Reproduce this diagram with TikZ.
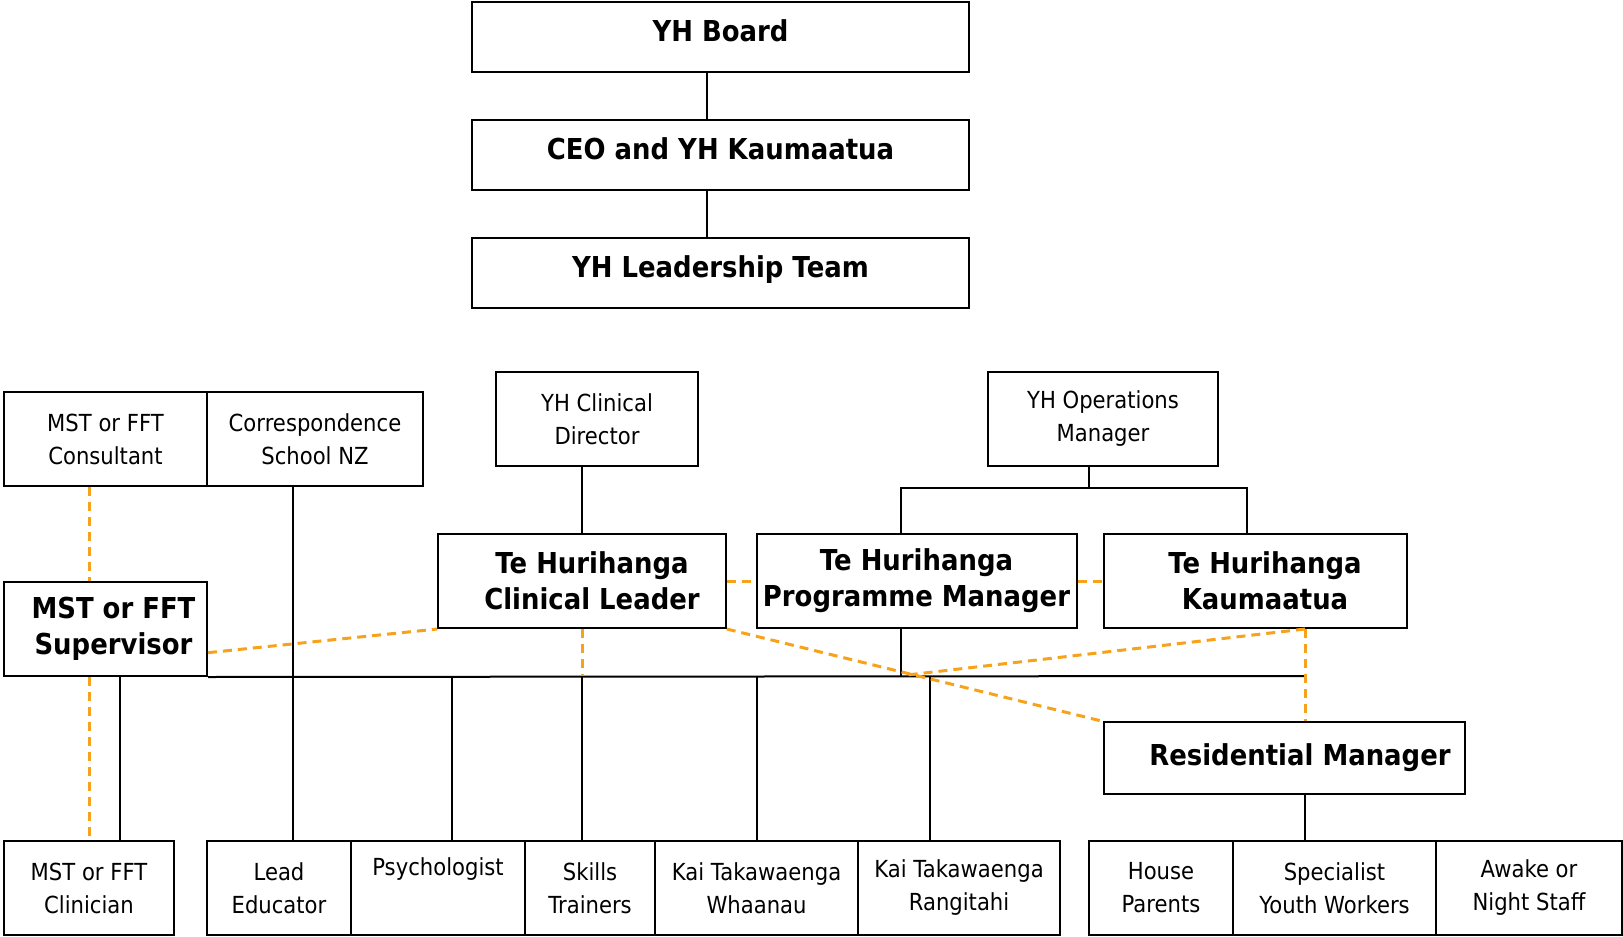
\documentclass[tikz,border=0pt]{standalone}
\usepackage{fontspec}
\setmainfont{DejaVu Sans}[FakeStretch=0.9]
\usepackage{tikz}
\usetikzlibrary{positioning}
\definecolor{yhInk}{HTML}{000000}
\definecolor{yhOrange}{HTML}{F7A21B}
\newcommand{\yhpad}{\hspace*{10pt}}
\tikzset{
  yh chart/.style={x=0.5pt, y=-0.5pt},
  yh box/.style={draw=yhInk, fill=white, line width=1pt, align=center,
    inner sep=0pt, font=\fontsize{11.75pt}{16.5pt}\selectfont},
  yh key box/.style={yh box, font=\fontsize{14.4pt}{18pt}\selectfont\bfseries},
  yh top/.style={text height=10.5pt, text depth=6.5pt},
  yh line/.style={draw=yhInk, line width=1pt},
  yh liaison/.style={draw=yhOrange, line width=1.5pt, dash pattern=on 4.5pt off 3pt}
}

\begin{document}
\begin{tikzpicture}[yh chart]
\useasboundingbox (0,0) rectangle (1623,937);
% governance
\node[yh key box, yh top, minimum width=248.5pt, minimum height=35pt] (board) at (720.5,37) {YH Board};
\node[yh key box, yh top, minimum width=248.5pt, minimum height=35pt] (ceo) at (720.5,155) {CEO and YH Kaumaatua};
\node[yh key box, yh top, minimum width=248.5pt, minimum height=35pt] (leaders) at (720.5,273) {YH Leadership Team};
\draw[yh line] ([xshift=-7pt]board.south) -- ([xshift=-7pt]ceo.north);
\draw[yh line] ([xshift=-7pt]ceo.south) -- ([xshift=-7pt]leaders.north);
% second row
\node[yh box, minimum width=101.5pt, minimum height=47.25pt] (consultant) at (105.5,439) {MST or FFT\\Consultant};
\node[yh box, minimum width=108pt, minimum height=47.25pt] (school) at (315,439) {Correspondence\\School NZ};
\node[yh box, minimum width=101pt, minimum height=47.25pt] (clindir) at (597,419) {YH Clinical\\Director};
\node[yh box, minimum width=115.25pt, minimum height=47.25pt] (opsmgr) at (1103,419) {YH Operations\\Manager};
% leads
\node[yh key box, minimum width=101.5pt, minimum height=47pt] (supervisor) at (105.5,629) {\hspace*{8pt}MST or FFT\\\hspace*{8pt}Supervisor};
\node[yh key box, minimum width=143.75pt, minimum height=47pt] (clinlead) at (582,581) {\yhpad Te Hurihanga\\\yhpad Clinical Leader};
\node[yh key box, minimum width=160pt, minimum height=47pt] (progmgr) at (916.5,581) {Te Hurihanga\\Programme Manager};
\node[yh key box, minimum width=151.5pt, minimum height=47pt] (kaumaatua) at (1255,581) {\yhpad Te Hurihanga\\\yhpad Kaumaatua};
\node[yh key box, minimum width=180.5pt, minimum height=35.75pt] (resmgr) at (1284,758) {\hspace*{16pt}Residential Manager};
% staff
\node[yh box, minimum width=85pt, minimum height=47.25pt] (clinician) at (89,888) {MST or FFT\\Clinician};
\node[yh box, minimum width=72pt, minimum height=47.25pt] (educator) at (279,888) {Lead\\Educator};
\node[yh box, minimum width=87pt, minimum height=47.25pt] (psych) at (438,888) {Psychologist\\\strut};
\node[yh box, minimum width=65pt, minimum height=47.25pt] (skills) at (590,888) {Skills\\Trainers};
\node[yh box, minimum width=101.5pt, minimum height=47.25pt] (whaanau) at (756.5,888) {Kai Takawaenga\\Whaanau};
\node[yh box, minimum width=101pt, minimum height=47.25pt] (rangitahi) at (959,888) {Kai Takawaenga\\Rangitahi};
\node[yh box, minimum width=72pt, minimum height=47.25pt] (house) at (1161,888) {House\\Parents};
\node[yh box, minimum width=101.5pt, minimum height=47.25pt] (youth) at (1334.5,888) {Specialist\\Youth Workers};
\node[yh box, minimum width=93pt, minimum height=47.25pt] (awake) at (1529,888) {Awake or\\Night Staff};

% reporting lines
\coordinate (busend) at (1305,676);
\draw[yh line] (supervisor.south east) -- (busend);
\draw[yh line] (clinlead.north) -- (clinlead.north |- clindir.south);
\draw[yh line] ([xshift=-7pt]opsmgr.south) -- ++(0,20.5) coordinate (opsbar);
\draw[yh line] ([xshift=-8pt]progmgr.north) |- (opsbar) -| ([xshift=-4pt]kaumaatua.north);
\draw[yh line] ([xshift=-8pt]progmgr.south) -- ([xshift=-8pt]progmgr.south |- busend);
\draw[yh line] ([xshift=15.5pt]clinician.north) -- ([xshift=15.5pt]clinician.north |- busend);
\draw[yh line] ([xshift=7pt]educator.north) -- ([xshift=7pt]educator.north |- school.south);
\draw[yh line] ([xshift=7pt]psych.north) -- ([xshift=7pt]psych.north |- busend);
\draw[yh line] (clinlead.south |- skills.north) -- (clinlead.south |- busend);
\draw[yh line] (whaanau.north) -- (whaanau.north |- busend);
\draw[yh line] ([xshift=-14.75pt]rangitahi.north) -- ([xshift=-14.75pt]rangitahi.north |- busend);
\draw[yh line] (resmgr.south -| busend) -- (youth.north -| busend);

% working relationships
\coordinate (meet) at (907,675);
\draw[yh liaison] (consultant.south -| clinician.north) -- (supervisor.north -| clinician.north);
\draw[yh liaison] (supervisor.south -| clinician.north) -- (clinician.north);
\draw[yh liaison] (supervisor.-13) -- (clinlead.south west);
\draw[yh liaison] (clinlead.east) -- (progmgr.west);
\draw[yh liaison] (progmgr.east) -- (kaumaatua.west);
\draw[yh liaison] (clinlead.south) -- (clinlead.south |- busend);
\draw[yh liaison] (clinlead.south east) -- (resmgr.north west);
\draw[yh liaison] (kaumaatua.south -| busend) -- (meet);
\draw[yh liaison] (kaumaatua.south -| busend) -- (resmgr.north -| busend);
\end{tikzpicture}
\end{document}
